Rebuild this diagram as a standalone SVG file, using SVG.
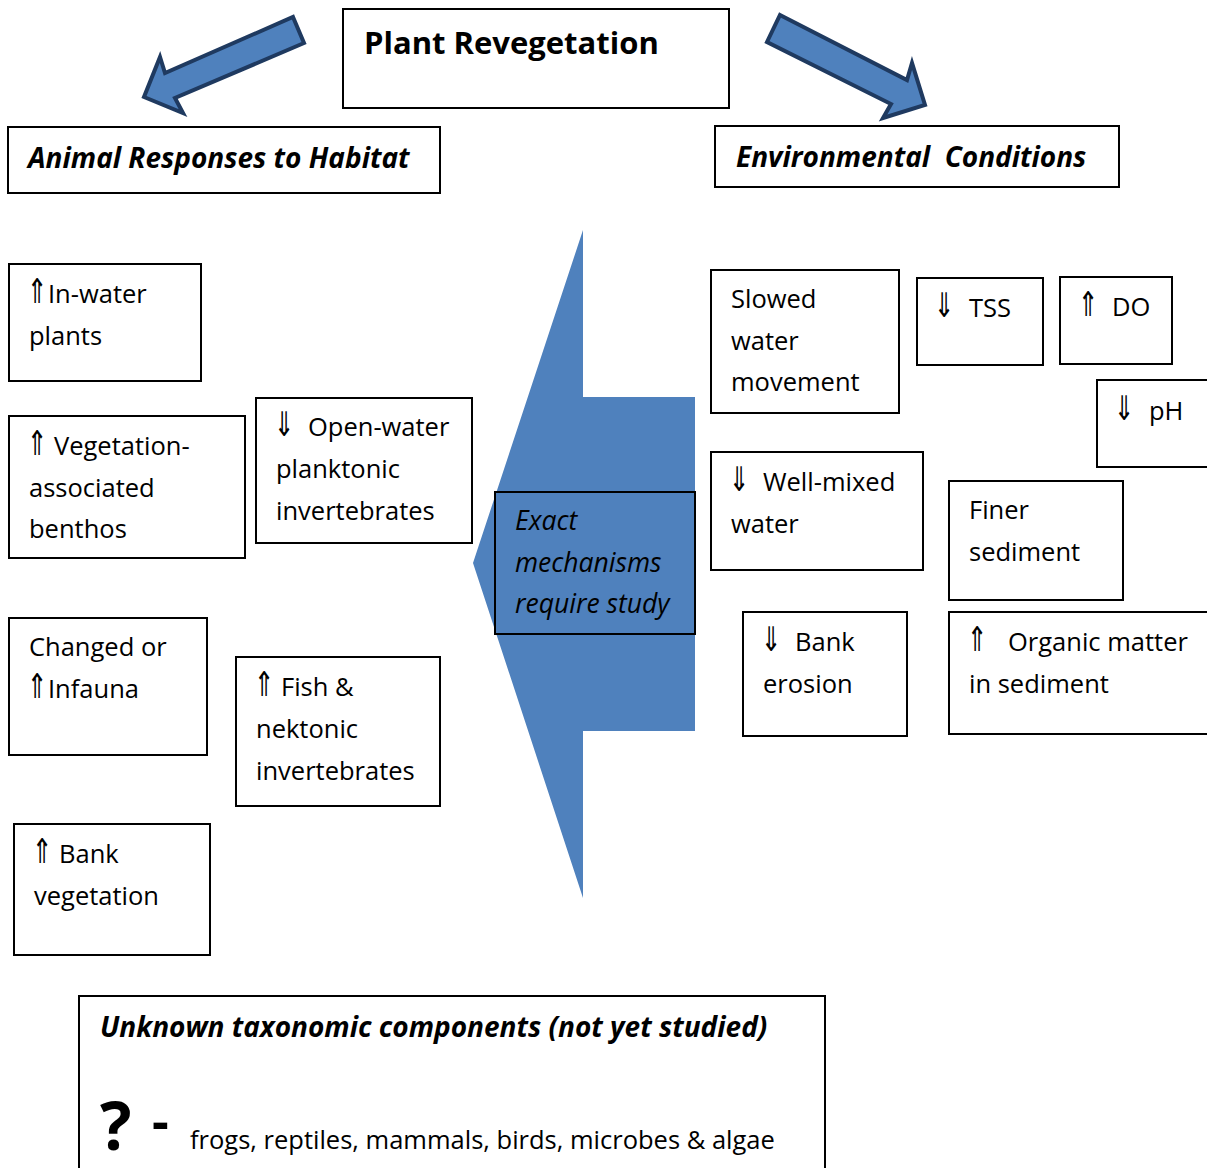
<svg xmlns="http://www.w3.org/2000/svg" width="1207" height="1168" viewBox="0 0 1207 1168">
<style>
text{font-family:"Open Sans","DejaVu Sans",sans-serif;fill:#000}
.b{fill:#fff;stroke:#000;stroke-width:2}
.t{font-size:25.5px}
.h{font-size:28px;font-weight:bold;font-style:italic}
.a{font-family:"DejaVu Sans Condensed","DejaVu Sans",sans-serif;font-size:34px}
.ar{fill:#4f81bd;stroke:#1f3a60;stroke-width:4;stroke-linejoin:miter}
</style>
<rect width="1207" height="1168" fill="#fff"/>
<g id="connectors">
<polygon class="ar" points="293,17 304,43 175,98 183,113 144,97 160,57 165,73"/>
<polygon class="ar" points="780,15 907,80 912,63 925,105 883,118 891,104 767,42"/>
<polygon fill="#4f81bd" points="583,230 583,397 695,397 695,731 583,731 583,898 473,563"/>
</g>
<g id="title"><rect class="b" x="343" y="9" width="386" height="99"/><text x="364" y="54" style="font-size:31px;font-weight:bold">Plant Revegetation</text></g>
<g id="animal"><rect class="b" x="8" y="127" width="432" height="66"/><text class="h" x="28" y="168">Animal Responses to Habitat</text></g>
<g id="env"><rect class="b" x="715" y="126" width="404" height="61"/><text class="h" x="736" y="167" xml:space="preserve">Environmental  Conditions</text></g>
<g id="mech"><rect x="495" y="492" width="200" height="142" fill="#4f81bd" stroke="#000" stroke-width="2"/><text x="515" y="530" font-style="italic" style="font-size:26.5px"><tspan x="515">Exact</tspan><tspan x="515" dy="42">mechanisms</tspan><tspan x="515" dy="41">require study</tspan></text></g>
<g id="inwater"><rect class="b" x="9" y="264" width="192" height="117"/><text class="a" transform="translate(27,303) scale(0.8,1)">⇑</text><text class="t"><tspan x="48" y="303">In-water</tspan><tspan x="29" y="345">plants</tspan></text></g>
<g id="vegben"><rect class="b" x="9" y="416" width="236" height="142"/><text class="a" transform="translate(27,455) scale(0.8,1)">⇑</text><text class="t"><tspan x="54" y="455">Vegetation-</tspan><tspan x="29" y="497">associated</tspan><tspan x="29" y="538">benthos</tspan></text></g>
<g id="openwater"><rect class="b" x="256" y="398" width="216" height="145"/><text class="a" transform="translate(274,436) scale(0.8,1)">⇓</text><text class="t"><tspan x="308" y="436">Open-water</tspan><tspan x="276" y="478">planktonic</tspan><tspan x="276" y="520">invertebrates</tspan></text></g>
<g id="infauna"><rect class="b" x="9" y="618" width="198" height="137"/><text class="t"><tspan x="29" y="656">Changed or</tspan><tspan x="48" y="698">Infauna</tspan></text><text class="a" transform="translate(27,698) scale(0.8,1)">⇑</text></g>
<g id="fish"><rect class="b" x="236" y="657" width="204" height="149"/><text class="a" transform="translate(254,696) scale(0.8,1)">⇑</text><text class="t"><tspan x="281" y="696">Fish &amp;</tspan><tspan x="256" y="738">nektonic</tspan><tspan x="256" y="780">invertebrates</tspan></text></g>
<g id="bankveg"><rect class="b" x="14" y="824" width="196" height="131"/><text class="a" transform="translate(32,863) scale(0.8,1)">⇑</text><text class="t"><tspan x="59" y="863">Bank</tspan><tspan x="34" y="905">vegetation</tspan></text></g>
<g id="slowed"><rect class="b" x="711" y="270" width="188" height="143"/><text class="t"><tspan x="731" y="308">Slowed</tspan><tspan x="731" y="350">water</tspan><tspan x="731" y="391">movement</tspan></text></g>
<g id="tss"><rect class="b" x="917" y="278" width="126" height="87"/><text class="a" transform="translate(934,317) scale(0.8,1)">⇓</text><text class="t" x="969" y="317">TSS</text></g>
<g id="do"><rect class="b" x="1060" y="277" width="112" height="87"/><text class="a" transform="translate(1078,316) scale(0.8,1)">⇑</text><text class="t" x="1112" y="316">DO</text></g>
<g id="ph"><rect class="b" x="1097" y="380" width="112" height="87"/><text class="a" transform="translate(1114,420) scale(0.8,1)">⇓</text><text class="t" x="1149" y="420">pH</text></g>
<g id="wellmixed"><rect class="b" x="711" y="452" width="212" height="118"/><text class="a" transform="translate(729,491) scale(0.8,1)">⇓</text><text class="t"><tspan x="763" y="491">Well-mixed</tspan><tspan x="731" y="533">water</tspan></text></g>
<g id="finer"><rect class="b" x="949" y="481" width="174" height="119"/><text class="t"><tspan x="969" y="519">Finer</tspan><tspan x="969" y="561">sediment</tspan></text></g>
<g id="bankero"><rect class="b" x="743" y="612" width="164" height="124"/><text class="a" transform="translate(761,651) scale(0.8,1)">⇓</text><text class="t"><tspan x="795" y="651">Bank</tspan><tspan x="763" y="693">erosion</tspan></text></g>
<g id="organic"><rect class="b" x="949" y="612" width="270" height="122"/><text class="a" transform="translate(967,651) scale(0.8,1)">⇑</text><text class="t"><tspan x="1008" y="651">Organic matter</tspan><tspan x="969" y="693">in sediment</tspan></text></g>
<g id="unknown"><rect class="b" x="79" y="996" width="746" height="190"/><text class="h" x="100" y="1037" style="font-size:28px">Unknown taxonomic components (not yet studied)</text><text x="100" y="1150" style="font-size:66px;font-weight:bold">?</text><text x="152" y="1140" style="font-size:52px;font-weight:bold">-</text><text x="190" y="1149" style="font-size:25.5px">frogs, reptiles, mammals, birds, microbes &amp; algae</text></g>
</svg>
